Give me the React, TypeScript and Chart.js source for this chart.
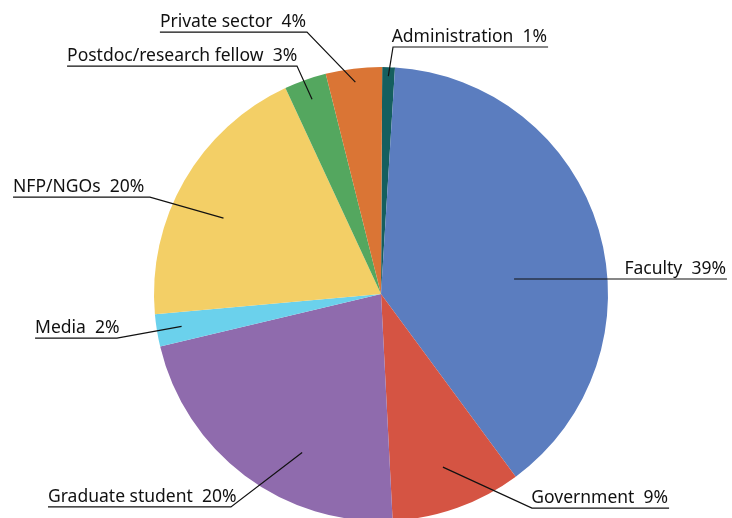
import React, { useEffect, useRef } from "react";
import { Chart, registerables } from "chart.js";

Chart.register(...registerables);

const categories = [
  "Administration",
  "Faculty",
  "Government",
  "Graduate student",
  "Media",
  "NFP/NGOs",
  "Postdoc/research fellow",
  "Private sector",
];
const shares = [0.9, 38.9, 9.3, 22.1, 2.3, 19.5, 3.0, 4.0];
const percentLabels = ["1%", "39%", "9%", "20%", "2%", "20%", "3%", "4%"];
const sliceColors = [
  "#155f5f",
  "#5b7dbf",
  "#d55443",
  "#8f6bad",
  "#6bd1ec",
  "#f3cf66",
  "#54a75f",
  "#da7535",
];

// Leader-line layout, in units of the pie radius, relative to the pie centre.
// anchor: radial fraction of the label's anchor point; shift: degrees from the slice mid-angle;
// ex/ey: elbow point (null = anchor itself); end: x of the outer end of the horizontal rule.
const labelLayout = [
  { anchor: 0.96, shift: 0, ex: 0.053, ey: -1.088, end: 0.736 },
  { anchor: 0.59, shift: 10, ex: null, ey: null, end: 1.524 },
  { anchor: 0.81, shift: 0, ex: 0.665, ey: 0.943, end: 1.269 },
  { anchor: 0.78, shift: -10.4, ex: -0.661, ey: 0.938, end: -1.467 },
  { anchor: 0.89, shift: 0, ex: -1.163, ey: 0.194, end: -1.524 },
  { anchor: 0.77, shift: -4.3, ex: -1.018, ey: -0.427, end: -1.621 },
  { anchor: 0.91, shift: 0, ex: -0.37, ey: -1.004, end: -1.383 },
  { anchor: 0.94, shift: 0, ex: -0.326, ey: -1.154, end: -0.974 },
];

const FONT = '17.5px "Noto Sans", sans-serif';

const leaderLabels = {
  id: "leaderLabels",
  afterDraw(chart: any) {
    const ctx = chart.ctx;
    const meta = chart.getDatasetMeta(0);
    ctx.save();
    ctx.font = FONT;
    ctx.fillStyle = "#111";
    ctx.strokeStyle = "#111";
    ctx.lineWidth = 1.2;
    ctx.textBaseline = "alphabetic";
    meta.data.forEach((arc: any, i: number) => {
      const L = labelLayout[i];
      const R = arc.outerRadius;
      const cx = arc.x;
      const cy = arc.y;
      const mid = (arc.startAngle + arc.endAngle) / 2 + (L.shift * Math.PI) / 180;
      const ax = cx + Math.cos(mid) * R * L.anchor;
      const ay = cy + Math.sin(mid) * R * L.anchor;
      const bx = L.ex === null ? ax : cx + L.ex * R;
      const by = L.ey === null ? ay : cy + L.ey * R;
      const endX = cx + L.end * R;
      ctx.beginPath();
      ctx.moveTo(ax, ay);
      ctx.lineTo(bx, by);
      ctx.lineTo(endX, by);
      ctx.stroke();
      const text = categories[i] + "  " + percentLabels[i];
      if (endX > bx) {
        ctx.textAlign = "right";
        ctx.fillText(text, endX - 1, by - 5);
      } else {
        ctx.textAlign = "left";
        ctx.fillText(text, endX, by - 5);
      }
    });
    ctx.restore();
  },
};

export default function App() {
  const ref = useRef<HTMLCanvasElement | null>(null);
  useEffect(() => {
    document.body.style.margin = "0";
    const canvas = ref.current;
    if (!canvas) return;
    const chart = new Chart(canvas, {
      type: "pie",
      data: {
        labels: categories,
        datasets: [
          {
            data: shares,
            backgroundColor: sliceColors,
            borderWidth: 0,
          },
        ],
      },
      options: {
        responsive: false,
        animation: false,
        rotation: 0.3,
        radius: 227,
        layout: { padding: { top: 70, bottom: 0, left: 30, right: 0 } },
        plugins: {
          legend: { display: false },
          tooltip: { enabled: false },
        },
      },
      plugins: [leaderLabels],
    });
    return () => chart.destroy();
  }, []);
  return (
    <div style={{ position: "absolute", left: 0, top: 0, width: 732, height: 518, background: "#fff" }}>
      <canvas ref={ref} width={732} height={518} />
    </div>
  );
}
